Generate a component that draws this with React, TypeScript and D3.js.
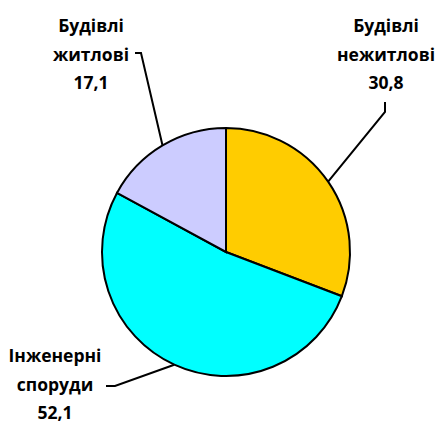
import React from 'react'
import * as d3 from 'd3'

const categories = ['Будівлі нежитлові', 'Інженерні споруди', 'Будівлі житлові']
const values = [30.8, 52.1, 17.1]
const valueLabels = ['30,8', '52,1', '17,1']
const colors = ['#FFCC00', '#00FFFF', '#CCCCFF']
// label text lines for each slice
const labelLines = [
  ['Будівлі', 'нежитлові', '30,8'],
  ['Інженерні', 'споруди', '52,1'],
  ['Будівлі', 'житлові', '17,1'],
]

const width = 436
const height = 423
const cx = 226
const cy = 252
const radius = 124

// where each label block sits (centre x, first baseline y) and the leader elbow
const labelLayout = [
  { x: 386, y: 32, elbow: [[385, 102], [385, 112]] },
  { x: 55, y: 362, elbow: [[106, 386], [115, 386]] },
  { x: 91, y: 32, elbow: [[135, 53], [141, 53]] },
]

export default function App() {
  const pie = d3
    .pie<number>()
    .value(d => d)
    .sort(null)
  const arcs = pie(values)
  const arc = d3
    .arc<d3.PieArcDatum<number>>()
    .innerRadius(0)
    .outerRadius(radius)
  const edgeArc = d3
    .arc<d3.PieArcDatum<number>>()
    .innerRadius(radius)
    .outerRadius(radius)
  const line = d3.line()

  return (
    <svg
      width={width}
      height={height}
      style={{ position: 'absolute', left: 0, top: 0 }}
      fontFamily="'Open Sans', Lato, sans-serif"
    >
      <rect width={width} height={height} fill="#fff" />
      <g transform={`translate(${cx},${cy})`}>
        {arcs.map((a, i) => (
          <path
            key={categories[i]}
            d={arc(a) || ''}
            fill={colors[i]}
            stroke="#000"
            strokeWidth={2}
          />
        ))}
      </g>
      {arcs.map((a, i) => {
        const [px, py] = edgeArc.centroid(a)
        const pts: [number, number][] = [
          [labelLayout[i].elbow[0][0], labelLayout[i].elbow[0][1]],
          [labelLayout[i].elbow[1][0], labelLayout[i].elbow[1][1]],
          [px + cx, py + cy],
        ]
        return (
          <path
            key={'l' + i}
            d={line(pts) || ''}
            fill="none"
            stroke="#000"
            strokeWidth={2}
          />
        )
      })}
      {labelLines.map((lines, i) => (
        <text
          key={'t' + i}
          textAnchor="middle"
          fontSize={17.5}
          fontWeight={700}
          fill="#000"
        >
          {lines.map((s, j) => (
            <tspan key={j} x={labelLayout[i].x} y={labelLayout[i].y + j * 28.7}>
              {j === 2 ? valueLabels[i] : s}
            </tspan>
          ))}
        </text>
      ))}
    </svg>
  )
}
